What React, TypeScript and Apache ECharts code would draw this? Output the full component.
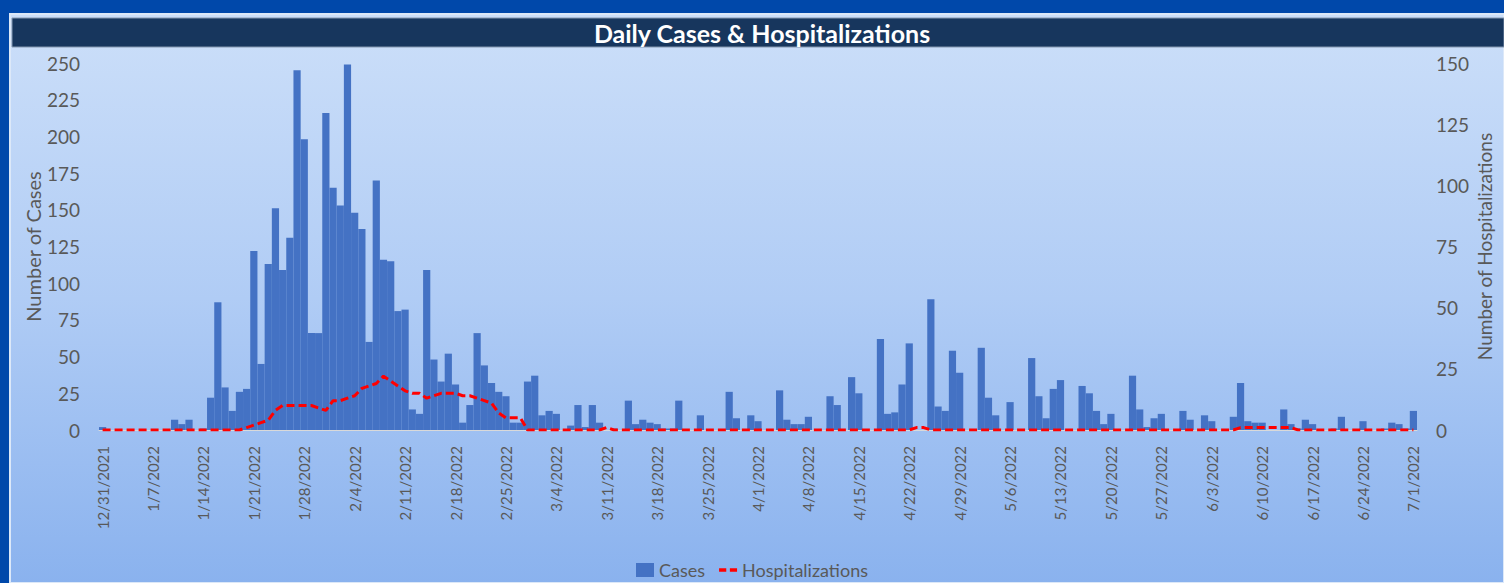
import { useEffect, useRef } from "react";
import * as echarts from "echarts";

const DAY_COUNT = 183;
const categories: string[] = [];
for (let i = 0; i < DAY_COUNT; i++) {
  const d = new Date(2021, 11, 31 + i);
  categories.push(`${d.getMonth() + 1}/${d.getDate()}/${d.getFullYear()}`);
}

const cases: number[] = [
  2, 0, 0, 0, 0, 0, 0, 0, 0, 0, 7, 4, 7, 0, 1, 22, 87, 29, 13, 26,
  28, 122, 45, 113, 151, 109, 131, 245, 198, 66, 66, 216, 165, 153, 249, 148, 137, 60, 170, 116,
  115, 81, 82, 14, 11, 109, 48, 33, 52, 31, 5, 17, 66, 44, 32, 26, 23, 5, 5, 33,
  37, 10, 13, 11, 0, 3, 17, 2, 17, 5, 0, 1, 0, 20, 4, 7, 5, 4, 1, 1,
  20, 0, 0, 10, 0, 0, 0, 26, 8, 0, 10, 6, 0, 0, 27, 7, 4, 4, 9, 0,
  0, 23, 17, 0, 36, 25, 0, 0, 62, 11, 12, 31, 59, 0, 0, 89, 16, 13, 54, 39,
  0, 0, 56, 22, 10, 0, 19, 0, 0, 49, 23, 8, 28, 34, 0, 0, 30, 25, 13, 4,
  11, 0, 0, 37, 14, 2, 8, 11, 0, 0, 13, 7, 0, 10, 6, 0, 0, 9, 32, 6,
  5, 5, 0, 0, 14, 4, 1, 7, 4, 0, 0, 1, 9, 0, 0, 6, 0, 0, 1, 5,
  4, 1, 13,
];

const hospitalizations: number[] = [
  0, 0, 0, 0, 0, 0, 0, 0, 0, 0, 0, 0, 0, 0, 0, 0, 0, 0, 0, 0,
  1, 2, 3, 4, 8, 10, 10, 10, 10, 10, 9, 8, 12, 12, 13, 14, 17, 18, 19, 22,
  20, 18, 16, 15, 15, 13, 14, 15, 15, 15, 14, 14, 13, 12, 11, 7, 5, 5, 5, 0,
  0, 0, 0, 0, 0, 0, 0, 0, 0, 0, 1, 0, 0, 0, 0, 0, 0, 0, 0, 0,
  0, 0, 0, 0, 0, 0, 0, 0, 0, 0, 0, 0, 0, 0, 0, 0, 0, 0, 0, 0,
  0, 0, 0, 0, 0, 0, 0, 0, 0, 0, 0, 0, 0, 1, 1, 0, 0, 0, 0, 0,
  0, 0, 0, 0, 0, 0, 0, 0, 0, 0, 0, 0, 0, 0, 0, 0, 0, 0, 0, 0,
  0, 0, 0, 0, 0, 0, 0, 0, 0, 0, 0, 0, 0, 0, 0, 0, 0, 0, 1, 1,
  1, 1, 1, 1, 1, 1, 0, 0, 0, 0, 0, 0, 0, 0, 0, 0, 0, 0, 0, 0,
  0, 0, 0,
];

const casesAxis = { min: 0, max: 250, interval: 25 };
const hospAxis = { min: 0, max: 150, interval: 25 };

const FONT = "Lato, 'Noto Sans', sans-serif";
const GREY = "#595959";

export default function App() {
  const ref = useRef<HTMLDivElement>(null);
  useEffect(() => {
    if (!ref.current) return;
    const chart = echarts.init(ref.current, null, { renderer: "svg" });
    chart.setOption({
      animation: false,
      backgroundColor: "#0048AA",
      textStyle: { fontFamily: FONT },
      graphic: {
        elements: [
          {
            type: "rect",
            z: -10,
            silent: true,
            shape: { x: 10, y: 14, width: 1494, height: 569 },
            style: {
              fill: new echarts.graphic.LinearGradient(0, 0, 0, 1, [
                { offset: 0, color: "#CCDFF9" },
                { offset: 0.5, color: "#B0CCF5" },
                { offset: 1, color: "#8AB2EE" },
              ]),
              stroke: "#DCE8F8",
              lineWidth: 2,
            },
          },
          {
            type: "rect",
            z: -9,
            silent: true,
            shape: { x: 12, y: 18, width: 1492, height: 29 },
            style: { fill: "#17365D", stroke: "#8497B0", lineWidth: 1 },
          },
        ],
      },
      title: {
        text: "Daily Cases & Hospitalizations",
        left: 757,
        textAlign: "center",
        top: 15,
        textStyle: { color: "#FFFFFF", fontSize: 25, fontWeight: "bold", fontFamily: FONT },
      },
      legend: {
        top: 556,
        left: "center",
        itemGap: 14,
        itemWidth: 18,
        itemHeight: 14,
        textStyle: { color: GREY, fontSize: 18, fontFamily: FONT },
        data: [
          { name: "Cases", icon: "rect", itemStyle: { color: "#4472C4" } },
          {
            name: "Hospitalizations",
            icon: "path://M0 0H6V3H0Z M9 0H15V3H9Z",
            itemStyle: { color: "#FF0000" },
          },
        ],
      },
      grid: { left: 99, right: 87, top: 63, bottom: 153, containLabel: false },
      xAxis: {
        type: "category",
        data: categories,
        boundaryGap: true,
        axisTick: { show: false },
        axisLine: { show: true, lineStyle: { color: "#D9D9D9", width: 1 } },
        axisLabel: {
          interval: 6,
          rotate: 90,
          color: GREY,
          fontSize: 15,
          fontFamily: FONT,
          margin: 16,
        },
        splitLine: { show: false },
      },
      yAxis: [
        {
          type: "value",
          ...casesAxis,
          name: "Number of Cases",
          nameLocation: "middle",
          nameGap: 56,
          nameMoveOverlap: false,
          nameTextStyle: { color: GREY, fontSize: 20, fontFamily: FONT },
          axisLine: { show: false },
          axisTick: { show: false },
          splitLine: { show: false },
          axisLabel: { color: GREY, fontSize: 19, fontFamily: FONT, margin: 19 },
        },
        {
          type: "value",
          ...hospAxis,
          name: "Number of Hospitalizations",
          nameLocation: "middle",
          nameGap: 58,
          nameMoveOverlap: false,
          nameRotate: 90,
          nameTextStyle: { color: GREY, fontSize: 19, fontFamily: FONT },
          axisLine: { show: false },
          axisTick: { show: false },
          splitLine: { show: false },
          axisLabel: { color: GREY, fontSize: 19, fontFamily: FONT, margin: 19 },
        },
      ],
      series: [
        {
          name: "Cases",
          type: "bar",
          data: cases,
          barCategoryGap: "0%",
          itemStyle: { color: "#4472C4" },
          yAxisIndex: 0,
        },
        {
          name: "Hospitalizations",
          type: "line",
          data: hospitalizations,
          yAxisIndex: 1,
          symbol: "none",
          showSymbol: false,
          lineStyle: { color: "#FF0000", width: 3, type: [8, 4] },
          itemStyle: { color: "#FF0000" },
          z: 5,
        },
      ],
    });
    return () => chart.dispose();
  }, []);
  return (
    <div
      ref={ref}
      style={{ position: "fixed", left: 0, top: 0, width: 1504, height: 583 }}
    />
  );
}
